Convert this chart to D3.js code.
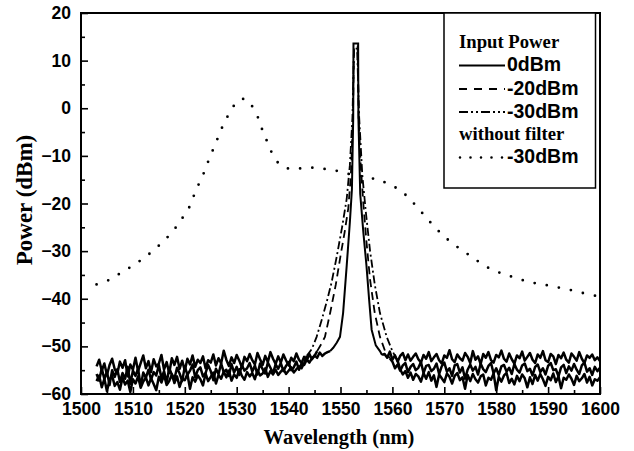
<!DOCTYPE html>
<html>
<head>
<meta charset="utf-8">
<script src="https://cdn.jsdelivr.net/npm/d3@7/dist/d3.min.js"></script>
<style>
  html, body { margin: 0; padding: 0; background: #fff; }
  svg { display: block; }
</style>
</head>
<body>
<svg id="chart" width="634" height="451"></svg>
<script>
// ---------------- DATA ----------------
const xTicks = [1500, 1510, 1520, 1530, 1540, 1550, 1560, 1570, 1580, 1590, 1600];
const yTicks = [-60, -50, -40, -30, -20, -10, 0, 10, 20];
const xMinor = [1505, 1515, 1525, 1535, 1545, 1555, 1565, 1575, 1585, 1595];
const yMinor = [-55, -45, -35, -25, -15, -5, 5, 15];

const legendLabels = ["0dBm", "-20dBm", "-30dBm", "-30dBm"];
const legendHeads = ["Input Power", "without filter"];

// sampling of noise floor: 0.5 nm steps
const floorStep = 0.5;

// 0 dBm (solid)
const solidLeftStart = 1503;
const solidLeft = [
  -54.2,-52.8,-55.1,-53.6,-56.0,-53.9,-52.6,-54.8,-55.7,-53.2,
  -54.5,-52.9,-56.3,-53.8,-54.9,-52.4,-55.2,-53.5,-51.9,-54.6,
  -53.1,-55.4,-52.7,-54.2,-53.6,-51.8,-54.9,-53.3,-55.6,-52.5,
  -53.9,-52.2,-54.7,-53.0,-55.1,-52.6,-53.8,-51.9,-54.3,-52.8,
  -53.5,-52.1,-54.6,-52.9,-53.4,-51.7,-54.0,-52.5,-53.6,-50.9,
  -52.8,-54.1,-52.3,-53.5,-51.8,-53.0,-54.4,-52.2,-53.1,-51.6,
  -52.9,-53.8,-51.4,-52.7,-53.9,-52.0,-53.3,-51.2,-52.6,-53.7,
  -52.1,-53.4,-51.7,-52.9,-54.0,-52.4,-53.1,-51.5,-52.8,-53.5,
  -52.2,-53.0,-51.6,-52.7,-51.9,-52.4,-51.3,-52.0,-51.5,-51.2
];
const solidPeak = [
  [1548.0,-51.0],[1548.6,-50.3],[1549.3,-49.2],[1549.9,-48.0],[1550.5,-43.0],
  [1551.2,-33.0],[1551.8,-24.0],[1552.2,-17.0],[1552.45,-2.0],[1552.5,13.6],
  [1553.4,13.6],[1553.45,-2.0],[1553.8,-18.0],[1554.4,-26.0],[1555.0,-33.0],
  [1555.5,-40.0],[1556.0,-46.5],[1556.8,-49.8],[1557.6,-51.0],[1558.0,-51.8]
];
const solidRight = [
  -51.6,-52.4,-51.1,-52.8,-51.9,-53.2,-52.0,-51.4,-52.9,-51.7,
  -53.0,-52.2,-51.5,-52.7,-53.4,-51.8,-52.6,-51.2,-53.1,-52.3,
  -51.6,-52.9,-53.6,-51.9,-52.4,-50.8,-52.7,-53.3,-51.7,-52.5,
  -53.0,-51.4,-52.2,-53.5,-51.0,-52.8,-52.1,-53.7,-51.6,-52.4,
  -51.2,-52.9,-53.4,-51.8,-52.3,-50.9,-52.6,-53.2,-51.5,-52.7,
  -53.6,-51.9,-52.5,-51.1,-53.0,-52.2,-51.4,-52.8,-53.5,-51.7,
  -52.4,-51.0,-52.9,-53.3,-51.6,-52.1,-53.7,-51.8,-52.5,-51.3,
  -52.8,-53.4,-51.5,-52.2,-53.0,-51.2,-52.6,-53.5,-51.9,-52.4,
  -51.7,-52.9,-52.3,-53.1
];

// -20 dBm (dashed)
const dashLeftStart = 1503;
const dashLeft = [
  -55.8,-57.2,-54.6,-56.9,-55.3,-58.1,-55.0,-56.4,-54.8,-57.5,
  -55.6,-56.8,-54.3,-57.9,-55.1,-56.2,-54.7,-58.4,-55.5,-56.6,
  -54.9,-57.0,-55.4,-56.1,-53.9,-56.7,-55.2,-57.6,-54.6,-55.9,
  -56.8,-54.5,-55.7,-57.3,-54.2,-56.0,-55.1,-53.8,-56.5,-55.0,
  -54.4,-56.3,-55.6,-53.9,-55.2,-57.1,-54.7,-55.8,-53.6,-55.4,
  -54.9,-56.2,-53.7,-55.5,-54.3,-56.0,-53.9,-55.1,-54.6,-53.5,
  -55.3,-54.0,-55.9,-53.6,-54.8,-55.7,-53.4,-54.5,-55.6,-53.8,
  -54.7,-53.5,-55.2,-54.1,-53.3,-55.0,-54.4,-53.2,-54.9,-53.6,
  -53.9,-52.8,-53.4,-52.5,-52.0
];
const dashPeak = [
  [1545.5,-51.0],[1546.3,-49.5],[1547.0,-48.0],[1548.0,-43.0],[1549.1,-37.0],
  [1550.0,-31.0],[1550.8,-26.0],[1551.5,-21.0],[1552.0,-14.0],[1552.4,-2.0],
  [1552.6,13.0],[1553.3,13.0],[1553.5,-2.0],[1553.9,-12.0],[1554.4,-20.0],
  [1555.0,-28.0],[1555.7,-36.0],[1556.6,-43.0],[1557.6,-48.0],[1558.6,-51.0],
  [1559.5,-52.5]
];
const dashRight = [
  -53.2,-54.6,-53.8,-55.1,-54.0,-53.5,-55.4,-54.3,-53.7,-55.0,
  -54.5,-53.3,-55.6,-54.1,-53.9,-55.2,-54.7,-53.6,-55.8,-54.2,
  -53.4,-55.3,-54.6,-56.2,-54.0,-53.7,-55.5,-54.4,-56.8,-54.9,
  -53.8,-55.1,-54.3,-55.9,-53.6,-54.8,-55.4,-54.1,-53.5,-55.7,
  -54.6,-56.0,-54.2,-53.9,-55.3,-54.5,-55.8,-53.7,-54.9,-55.5,
  -54.0,-53.6,-55.2,-54.7,-56.1,-54.3,-53.8,-55.4,-54.6,-55.9,
  -54.1,-53.5,-55.0,-54.8,-56.3,-54.4,-53.9,-55.6,-54.2,-55.1,
  -53.7,-54.9,-55.8,-54.0,-53.4,-55.3,-54.6,-56.0,-54.3,-55.2,
  -54.5
];

// -30 dBm (dash-dot)
const ddLeftStart = 1503;
const ddLeft = [
  -57.3,-56.1,-58.6,-56.8,-59.4,-57.0,-56.2,-58.3,-57.5,-59.1,
  -56.6,-58.0,-57.2,-59.6,-56.9,-57.8,-56.3,-58.7,-57.4,-56.5,
  -58.2,-56.7,-57.9,-59.2,-56.4,-57.6,-56.0,-58.1,-57.3,-55.9,
  -57.7,-56.3,-58.5,-56.8,-57.1,-55.8,-58.9,-56.5,-57.4,-56.1,
  -56.9,-58.2,-55.7,-57.3,-56.4,-55.5,-57.8,-56.0,-56.8,-55.3,
  -56.5,-55.1,-57.2,-55.9,-56.6,-54.8,-56.2,-57.0,-55.4,-56.3,
  -55.6,-56.9,-55.0,-56.1,-55.7,-54.6,-56.4,-55.2,-55.9,-54.9,
  -56.0,-55.3,-54.7,-55.8,-55.1,-54.4,-55.5,-54.8,-54.2,-54.6,
  -53.5
];
const ddPeak = [
  [1543.5,-52.0],[1544.5,-50.5],[1545.4,-48.0],[1546.5,-44.0],[1547.5,-40.0],
  [1548.3,-36.5],[1549.3,-31.0],[1550.3,-25.0],[1551.2,-19.0],[1551.8,-12.0],
  [1552.3,-2.0],[1552.6,12.5],[1553.2,12.5],[1553.6,-2.0],[1554.2,-14.0],
  [1554.9,-22.0],[1555.7,-30.0],[1556.6,-37.0],[1557.6,-43.0],[1558.9,-48.0],
  [1560.0,-51.0],[1561.0,-53.0]
];
const ddRight = [
  -54.8,-55.9,-55.2,-56.6,-55.5,-57.0,-55.8,-56.3,-57.4,-55.6,
  -56.8,-55.4,-57.2,-56.1,-58.5,-55.9,-56.7,-57.5,-55.7,-56.4,
  -57.8,-56.2,-55.6,-57.1,-56.5,-58.9,-56.0,-57.3,-55.8,-56.9,
  -57.6,-56.3,-55.9,-58.2,-56.6,-57.0,-55.7,-59.2,-56.4,-57.4,
  -56.1,-55.6,-57.7,-56.8,-58.0,-56.2,-57.3,-55.9,-56.7,-58.6,
  -56.5,-57.9,-56.0,-57.2,-55.8,-56.9,-58.3,-56.4,-57.1,-55.7,
  -57.5,-56.3,-58.8,-56.6,-57.0,-55.9,-56.8,-58.1,-56.2,-57.3,
  -56.7,-55.8,-57.6,-56.4,-58.2,-56.9,-57.2,-56.5
];

// without filter, -30 dBm (dotted ASE)
const aseWl = [1503.0,1505.3,1507.5,1509.6,1511.8,1513.9,1516.1,1518.0,1519.5,1520.9,
  1521.8,1522.7,1523.7,1524.5,1525.4,1526.3,1527.2,1528.3,1529.6,1530.6,
  1531.7,1532.6,1533.3,1534.4,1535.1,1536.0,1536.9,1538.5,1540.8,1543.0,
  1545.1,1547.3,1549.5,1551.6,1555.2,1557.4,1559.5,1561.8,1563.8,1566.0,
  1568.2,1570.6,1573.0,1575.3,1577.4,1579.6,1581.8,1583.9,1586.2,1588.3,
  1590.5,1592.7,1594.9,1597.1,1599.2];
const asePow = [-37.0,-36.1,-34.7,-33.3,-31.7,-29.9,-27.7,-25.4,-23.1,-20.7,
  -18.2,-15.9,-13.5,-11.2,-8.8,-6.4,-4.0,-1.6,0.75,1.8,
  1.9,1.0,-0.2,-2.7,-5.1,-7.3,-9.6,-12.0,-12.8,-12.5,
  -12.5,-12.8,-13.2,-13.8,-14.5,-15.1,-16.0,-17.5,-19.6,-22.3,
  -25.0,-27.5,-29.5,-31.2,-32.8,-34.1,-34.9,-35.7,-36.4,-36.9,
  -37.3,-37.8,-38.3,-38.9,-39.4];

// ---------------- CHART ----------------
const svg = d3.select("#chart");
const L = 81, R = 600, T = 13, B = 394;
const x = d3.scaleLinear().domain([1500, 1600]).range([L, R]);
const y = d3.scaleLinear().domain([-60, 20]).range([B, T]);

function parts(leftStart, leftVals, peak, rightVals) {
  const left = leftVals.map((v, i) => [leftStart + i * floorStep, v]);
  const rStart = 1600 - (rightVals.length - 1) * floorStep;
  const right = rightVals.map((v, i) => [rStart + i * floorStep, v]);
  return {
    left: left.concat([peak[0]]),
    peak: peak,
    right: [peak[peak.length - 1]].concat(right)
  };
}

const pSolid = parts(solidLeftStart, solidLeft, solidPeak, solidRight);
const pDash = parts(dashLeftStart, dashLeft, dashPeak, dashRight);
const pDD = parts(ddLeftStart, ddLeft, ddPeak, ddRight);
const seriesAse = aseWl.map((w, i) => [w, asePow[i]]);

svg.append("defs").append("clipPath").attr("id", "clip")
  .append("rect").attr("x", L).attr("y", T).attr("width", R - L).attr("height", B - T);

const line = d3.line().x(d => x(d[0])).y(d => y(d[1]));
const smooth = d3.line().x(d => x(d[0])).y(d => y(d[1])).curve(d3.curveCatmullRom);

const plot = svg.append("g").attr("clip-path", "url(#clip)");

plot.append("path").datum(seriesAse).attr("d", smooth)
  .attr("fill", "none").attr("stroke", "#000").attr("stroke-width", 2.8)
  .attr("stroke-linecap", "round").attr("stroke-dasharray", "0,12.3");

function drawCurve(p, dash, w) {
  ["left", "right"].forEach(k => {
    plot.append("path").datum(p[k]).attr("d", line)
      .attr("fill", "none").attr("stroke", "#000").attr("stroke-width", 2.5)
      .attr("stroke-linejoin", "round");
  });
  const pk = plot.append("path").datum(p.peak).attr("d", line)
    .attr("fill", "none").attr("stroke", "#000").attr("stroke-width", w);
  if (dash) pk.attr("stroke-dasharray", dash);
}
drawCurve(pDD, "8,3,2,3", 1.8);
drawCurve(pDash, "8,5", 1.8);
drawCurve(pSolid, null, 2.0);

// axes
const tickFont = "bold 17.5px 'Liberation Sans', Arial, sans-serif";
const xAxis = svg.append("g").attr("transform", `translate(0,${B})`)
  .call(d3.axisBottom(x).tickValues(xTicks).tickSize(-7).tickSizeOuter(0).tickPadding(9).tickFormat(d3.format("d")));
const xAxisMinor = svg.append("g").attr("transform", `translate(0,${B})`)
  .call(d3.axisBottom(x).tickValues(xMinor).tickSize(-4).tickSizeOuter(0).tickFormat(""));
const yAxis = svg.append("g").attr("transform", `translate(${L},0)`)
  .call(d3.axisLeft(y).tickValues(yTicks).tickSize(-7).tickSizeOuter(0).tickPadding(10).tickFormat(d3.format("d")));
const yAxisMinor = svg.append("g").attr("transform", `translate(${L},0)`)
  .call(d3.axisLeft(y).tickValues(yMinor).tickSize(-4).tickSizeOuter(0).tickFormat(""));

[xAxis, xAxisMinor, yAxis, yAxisMinor].forEach(g => {
  g.select(".domain").remove();
  g.selectAll("line").attr("stroke", "#000").attr("stroke-width", 1.6);
  g.selectAll("text").style("font", tickFont).attr("fill", "#000");
});

// frame
svg.append("rect").attr("x", L).attr("y", T).attr("width", R - L).attr("height", B - T)
  .attr("fill", "none").attr("stroke", "#000").attr("stroke-width", 2);

// axis titles
svg.append("text").attr("x", 339).attr("y", 444).attr("text-anchor", "middle")
  .style("font", "bold 20.5px 'Liberation Serif', 'Times New Roman', serif").text("Wavelength (nm)");
svg.append("text").attr("transform", "translate(32,200) rotate(-90)")
  .attr("text-anchor", "middle")
  .style("font", "bold 23px 'Liberation Serif', 'Times New Roman', serif").text("Power (dBm)");

// legend
const lg = svg.append("g");
lg.append("rect").attr("x", 444).attr("y", T).attr("width", 151.5).attr("height", 175)
  .attr("fill", "#fff").attr("stroke", "#000").attr("stroke-width", 1.5);
const headFont = "bold 18.7px 'Liberation Serif', 'Times New Roman', serif";
const labFont = "bold 19.5px 'Liberation Sans', Arial, sans-serif";
lg.append("text").attr("x", 459).attr("y", 47.5).style("font", headFont).text(legendHeads[0]);
lg.append("text").attr("x", 459).attr("y", 140).style("font", headFont).text(legendHeads[1]);
const legRows = [
  { y: 65.5, dash: null, w: 1.8, lab: legendLabels[0], base: 71 },
  { y: 89, dash: "8,7", w: 1.8, lab: legendLabels[1], base: 94.5 },
  { y: 112, dash: "9,3,2,3,2,3", w: 1.8, lab: legendLabels[2], base: 117.5 },
  { y: 157.5, dash: "0,10.5", w: 2.6, lab: legendLabels[3], base: 163, round: true }
];
legRows.forEach(r => {
  const ln = lg.append("line").attr("x1", r.round ? 460 : 459).attr("x2", 505)
    .attr("y1", r.y).attr("y2", r.y).attr("stroke", "#000").attr("stroke-width", r.w);
  if (r.dash) ln.attr("stroke-dasharray", r.dash);
  if (r.round) ln.attr("stroke-linecap", "round");
  lg.append("text").attr("x", 507).attr("y", r.base).style("font", labFont).text(r.lab);
});
</script>
</body>
</html>
